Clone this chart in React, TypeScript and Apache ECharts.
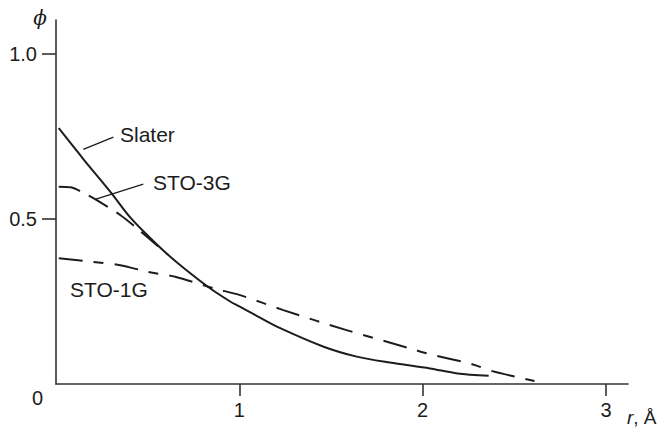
import React, { useEffect, useRef } from "react";
import * as echarts from "echarts";

// r (Å), phi
const slater: [number, number][] = [
  [0.015, 0.775], [0.15, 0.681], [0.3, 0.58], [0.4, 0.508], [0.5, 0.45], [0.6, 0.397],
  [0.7, 0.35], [0.84, 0.29], [0.95, 0.25], [1.0, 0.235], [1.1, 0.205], [1.22, 0.17],
  [1.46, 0.113], [1.64, 0.083], [1.82, 0.065], [2.04, 0.047], [2.19, 0.032], [2.36, 0.025],
];
const sto3g: [number, number][] = [
  [0.015, 0.598], [0.08, 0.596], [0.16, 0.576], [0.22, 0.558], [0.35, 0.512],
  [0.45, 0.468], [0.52, 0.435], [0.6, 0.397],
];
const sto1g: [number, number][] = [
  [0.015, 0.381], [0.2, 0.37], [0.35, 0.36], [0.5, 0.34], [0.65, 0.325], [0.86, 0.29],
  [1.0, 0.27], [1.24, 0.224], [1.58, 0.164], [1.93, 0.108], [2.02, 0.093], [2.27, 0.06],
  [2.38, 0.039], [2.61, 0.009],
];
// annotation leader lines (data coords)
const slaterLeader: [number, number][] = [[0.149, 0.711], [0.313, 0.748]];
const sto3gLeader: [number, number][] = [[0.218, 0.56], [0.476, 0.606]];

const xTicks = [1, 2, 3];
const yTicks = [0.5, 1.0];

const FONT = "'Liberation Sans', Arial, Helvetica, sans-serif";
const INK = "#1c1c1c";

export default function App() {
  const ref = useRef<HTMLDivElement>(null);
  useEffect(() => {
    document.body.style.margin = "0";
    const chart = echarts.init(ref.current!, undefined, { renderer: "svg" });
    const axisLine = { show: true, lineStyle: { color: "#333", width: 1.6 } };
    chart.setOption({
      animation: false,
      backgroundColor: "#fff",
      grid: { left: 56, top: 20, right: 35, bottom: 45, containLabel: false },
      xAxis: {
        type: "value",
        min: 0,
        max: 3.12,
        axisLine: { ...axisLine, onZero: false },
        axisTick: { show: true, customValues: xTicks, length: 12, lineStyle: { color: "#333", width: 1.6 } },
        axisLabel: {
          customValues: xTicks,
          formatter: (v: number) => String(v),
          fontSize: 20,
          fontFamily: FONT,
          color: INK,
          margin: 16,
        },
        splitLine: { show: false },
      },
      yAxis: {
        type: "value",
        min: 0,
        max: 1.103,
        axisLine: { ...axisLine, onZero: false },
        axisTick: { show: true, customValues: yTicks, length: 14, lineStyle: { color: "#333", width: 1.6 } },
        axisLabel: {
          customValues: yTicks,
          formatter: (v: number) => v.toFixed(1),
          fontSize: 20,
          fontFamily: FONT,
          color: INK,
          margin: 19,
        },
        splitLine: { show: false },
      },
      series: [
        {
          type: "line", data: slater, showSymbol: false, smooth: 0.3, silent: true,
          lineStyle: { color: INK, width: 2 },
        },
        {
          type: "line", data: sto3g, showSymbol: false, smooth: 0.3, silent: true,
          lineStyle: { color: INK, width: 2, type: [22, 10] },
        },
        {
          type: "line", data: sto1g, showSymbol: false, smooth: 0.3, silent: true,
          lineStyle: { color: INK, width: 2, type: [24, 11, 10, 11] },
        },
        {
          type: "line", data: slaterLeader, showSymbol: false, silent: true,
          lineStyle: { color: INK, width: 1.3 },
        },
        {
          type: "line", data: sto3gLeader, showSymbol: false, silent: true,
          lineStyle: { color: INK, width: 1.3 },
        },
      ],
      graphic: [
        { type: "text", style: { text: "Slater", x: 120, y: 134, textVerticalAlign: "middle", fontSize: 21, fontFamily: FONT, fill: INK } },
        { type: "text", style: { text: "STO-3G", x: 153, y: 182, textVerticalAlign: "middle", fontSize: 21, fontFamily: FONT, fill: INK } },
        { type: "text", style: { text: "STO-1G", x: 70, y: 289, textVerticalAlign: "middle", fontSize: 21, fontFamily: FONT, fill: INK } },
        { type: "text", style: { text: "0", x: 37.5, y: 398, textAlign: "center", textVerticalAlign: "middle", fontSize: 20, fontFamily: FONT, fill: INK } },
        { type: "text", style: { text: "\u03d5", x: 40, y: 18, textAlign: "center", textVerticalAlign: "middle", fontSize: 20, fontStyle: "italic", fontFamily: "'DejaVu Serif', serif", fill: INK } },
        {
          type: "text",
          style: {
            text: "{i|r}, Å", x: 627, y: 417, textVerticalAlign: "middle", fontSize: 19, fontFamily: FONT, fill: INK,
            rich: { i: { fontStyle: "italic", fontSize: 19, fontFamily: FONT, fill: INK } },
          },
        },
      ],
    });
    return () => chart.dispose();
  }, []);
  return <div ref={ref} style={{ width: 663, height: 429 }} />;
}
